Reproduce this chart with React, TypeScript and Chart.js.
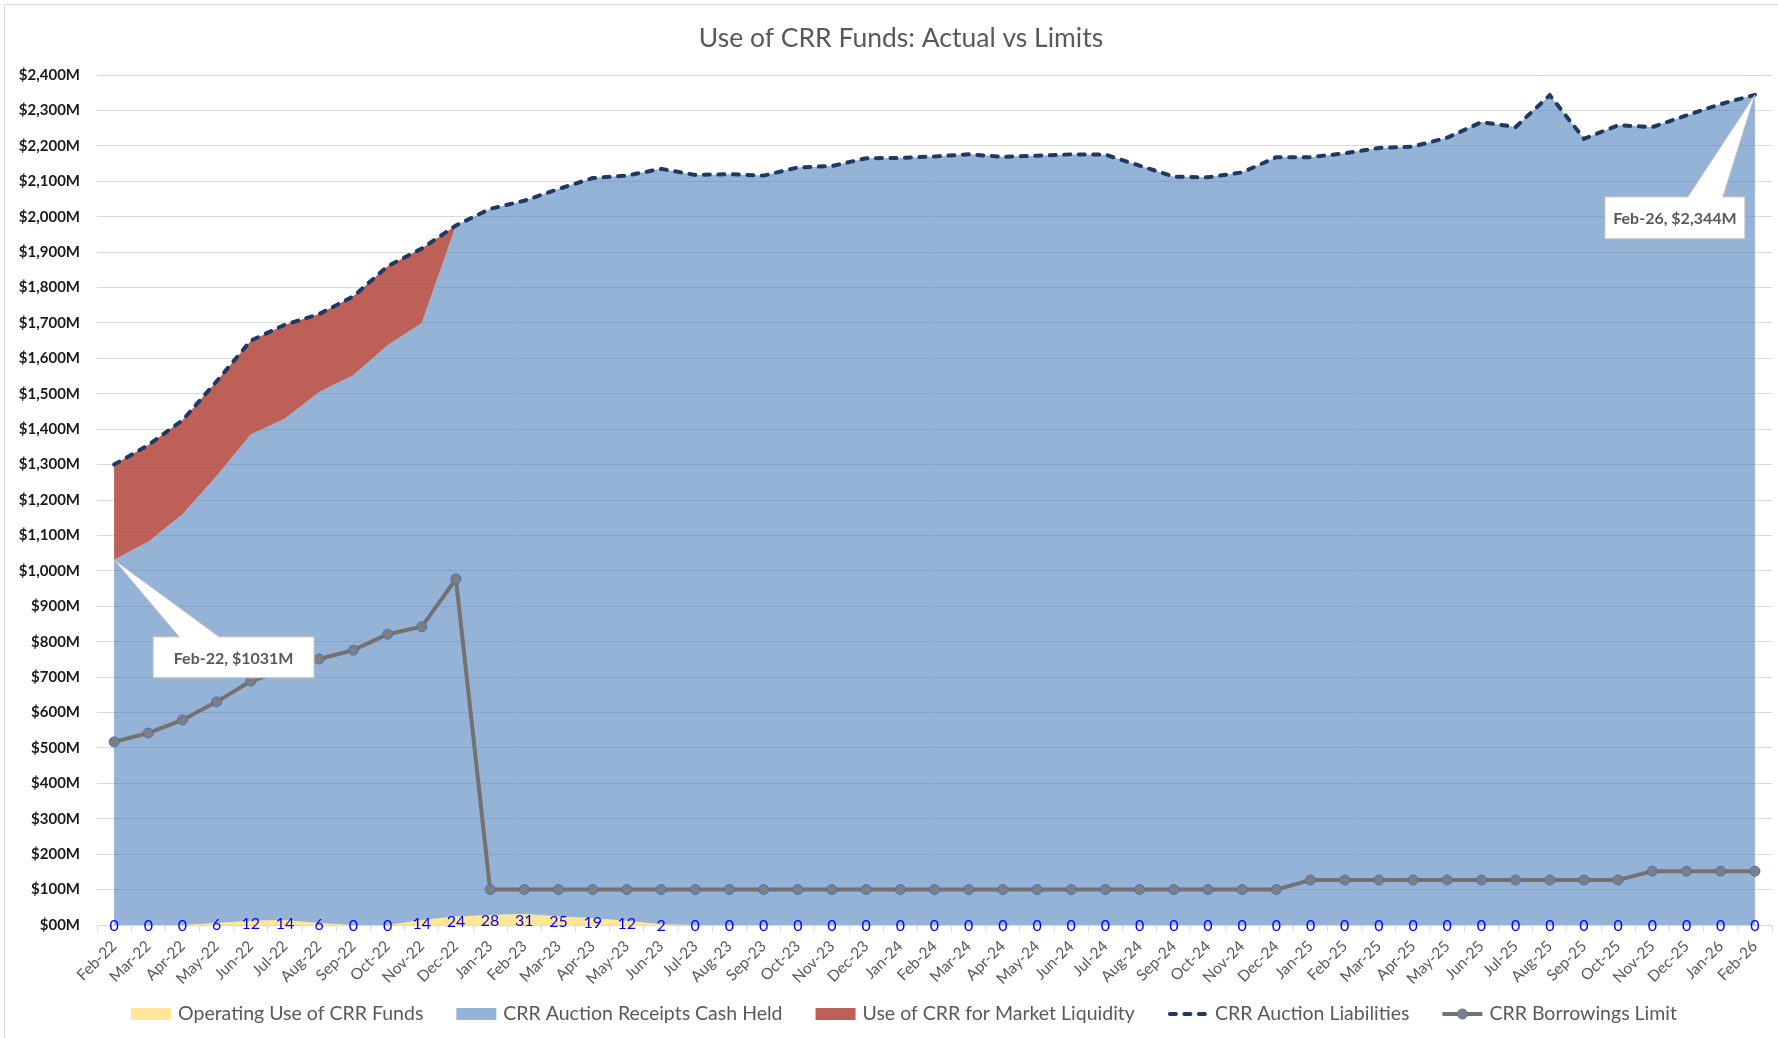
import React, { useEffect, useRef } from 'react';
import { Chart, registerables } from 'chart.js';

Chart.register(...registerables);

const FONT = 'Lato, "Open Sans", "DejaVu Sans", sans-serif';

const categories = [
  'Feb-22', 'Mar-22', 'Apr-22', 'May-22', 'Jun-22', 'Jul-22', 'Aug-22', 'Sep-22', 'Oct-22', 'Nov-22', 'Dec-22',
  'Jan-23', 'Feb-23', 'Mar-23', 'Apr-23', 'May-23', 'Jun-23', 'Jul-23', 'Aug-23', 'Sep-23', 'Oct-23', 'Nov-23', 'Dec-23',
  'Jan-24', 'Feb-24', 'Mar-24', 'Apr-24', 'May-24', 'Jun-24', 'Jul-24', 'Aug-24', 'Sep-24', 'Oct-24', 'Nov-24', 'Dec-24',
  'Jan-25', 'Feb-25', 'Mar-25', 'Apr-25', 'May-25', 'Jun-25', 'Jul-25', 'Aug-25', 'Sep-25', 'Oct-25', 'Nov-25', 'Dec-25',
  'Jan-26', 'Feb-26',
];

// Operating Use of CRR Funds ($M)
const operatingUse = [
  0, 0, 0, 6, 12, 14, 6, 0, 0, 14, 24,
  28, 31, 25, 19, 12, 2, 0, 0, 0, 0, 0, 0,
  0, 0, 0, 0, 0, 0, 0, 0, 0, 0, 0, 0,
  0, 0, 0, 0, 0, 0, 0, 0, 0, 0, 0, 0,
  0, 0,
];

// CRR Auction Receipts Cash Held ($M)
const cashHeld = [
  1031, 1082, 1160, 1262, 1373, 1416, 1499, 1552, 1637, 1686, 1951,
  1994, 2014, 2053, 2090, 2104, 2133, 2118, 2120, 2116, 2139, 2143, 2165,
  2166, 2170, 2176, 2169, 2172, 2176, 2175, 2144, 2113, 2111, 2125, 2168,
  2168, 2179, 2194, 2198, 2223, 2267, 2253, 2343, 2220, 2258, 2253, 2286,
  2318, 2344,
];

// Use of CRR for Market Liquidity ($M)
const marketLiquidity = [
  269, 273, 265, 267, 265, 265, 220, 223, 223, 210, 0,
  0, 0, 0, 0, 0, 0, 0, 0, 0, 0, 0, 0,
  0, 0, 0, 0, 0, 0, 0, 0, 0, 0, 0, 0,
  0, 0, 0, 0, 0, 0, 0, 0, 0, 0, 0, 0,
  0, 0,
];

// CRR Auction Liabilities ($M)
const liabilities = [
  1300, 1355, 1425, 1535, 1650, 1695, 1725, 1775, 1860, 1910, 1975,
  2022, 2045, 2078, 2109, 2116, 2135, 2118, 2120, 2116, 2139, 2143, 2165,
  2166, 2170, 2176, 2169, 2172, 2176, 2175, 2144, 2113, 2111, 2125, 2168,
  2168, 2179, 2194, 2198, 2223, 2267, 2253, 2343, 2220, 2258, 2253, 2286,
  2318, 2344,
];

// CRR Borrowings Limit ($M)
const borrowingLimit = [
  517, 542, 579, 630, 689, 720, 751, 776, 821, 842, 977,
  100, 100, 100, 100, 100, 100, 100, 100, 100, 100, 100, 100,
  100, 100, 100, 100, 100, 100, 100, 100, 100, 100, 100, 100,
  127, 127, 127, 127, 127, 127, 127, 127, 127, 127, 152, 152,
  152, 152,
];

const TITLE = 'Use of CRR Funds: Actual vs Limits';

const COLORS = {
  yellow: 'rgba(255,192,0,0.4)',
  blue: 'rgba(79,129,189,0.6)',
  red: 'rgba(180,75,65,0.88)',
  navy: '#1F3864',
  gray: '#767171',
  marker: '#7F7F7F',
  markerBorder: '#4472C4',
  text: '#595959',
  grid: '#d9d9d9',
};

function fmtMoney(v: number) {
  if (v === 0) return '$00M';
  return '$' + v.toLocaleString('en-US') + 'M';
}

function drawCallout(
  ctx: CanvasRenderingContext2D,
  tipX: number, tipY: number,
  left: number, top: number, w: number, h: number,
  baseL: number, baseR: number, text: string,
) {
  ctx.save();
  ctx.beginPath();
  ctx.moveTo(left, top);
  ctx.lineTo(left + baseL, top);
  ctx.lineTo(tipX, tipY);
  ctx.lineTo(left + baseR, top);
  ctx.lineTo(left + w, top);
  ctx.lineTo(left + w, top + h);
  ctx.lineTo(left, top + h);
  ctx.closePath();
  ctx.fillStyle = '#ffffff';
  ctx.fill();
  ctx.strokeStyle = '#bfbfbf';
  ctx.lineWidth = 1;
  ctx.stroke();
  ctx.fillStyle = COLORS.text;
  ctx.font = `bold 16px ${FONT}`;
  ctx.textAlign = 'center';
  ctx.textBaseline = 'middle';
  ctx.fillText(text, left + w / 2, top + h / 2 + 1);
  ctx.restore();
}

const overlayPlugin = {
  id: 'overlay',
  beforeDraw(chart: any) {
    const { ctx, width, height } = chart;
    ctx.save();
    ctx.fillStyle = '#ffffff';
    ctx.fillRect(0, 0, width, height);
    ctx.strokeStyle = '#d9d9d9';
    ctx.lineWidth = 1;
    ctx.strokeRect(4.5, 4.5, width - 2, height - 4);
    ctx.restore();
  },
  afterDatasetsDraw(chart: any) {
    const { ctx } = chart;
    const x = chart.scales.x;
    const y = chart.scales.y;
    // data labels for operating use
    ctx.save();
    ctx.font = `16px ${FONT}`;
    ctx.fillStyle = '#0000FF';
    ctx.textAlign = 'center';
    ctx.textBaseline = 'middle';
    operatingUse.forEach((v, i) => {
      ctx.fillText(String(v), x.getPixelForValue(i), y.getPixelForValue(v / 2) + 1);
    });
    ctx.restore();

    // callout: first point of cash held
    const t1x = x.getPixelForValue(0);
    const t1y = y.getPixelForValue(operatingUse[0] + cashHeld[0]);
    drawCallout(ctx, t1x, t1y, t1x + 39, t1y + 77, 161, 41, 26, 66,
      `${categories[0]}, $${cashHeld[0]}M`);

    // callout: last point of liabilities
    const last = categories.length - 1;
    const t2x = x.getPixelForValue(last);
    const t2y = y.getPixelForValue(liabilities[last]);
    drawCallout(ctx, t2x, t2y, t2x - 150, t2y + 102, 140, 42, 83, 118,
      `${categories[last]}, $${liabilities[last].toLocaleString('en-US')}M`);
  },
  afterDraw(chart: any) {
    const { ctx } = chart;
    ctx.save();
    // title
    ctx.fillStyle = COLORS.text;
    ctx.font = `26.5px ${FONT}`;
    ctx.textAlign = 'center';
    ctx.textBaseline = 'alphabetic';
    ctx.fillText(TITLE, 901, 47);

    // legend
    const items = [
      { label: 'Operating Use of CRR Funds', kind: 'box', color: COLORS.yellow },
      { label: 'CRR Auction Receipts Cash Held', kind: 'box', color: COLORS.blue },
      { label: 'Use of CRR for Market Liquidity', kind: 'box', color: COLORS.red },
      { label: 'CRR Auction Liabilities', kind: 'dash', color: COLORS.navy },
      { label: 'CRR Borrowings Limit', kind: 'marker', color: COLORS.gray },
    ];
    ctx.font = `19.5px ${FONT}`;
    const sym = 40, gapSym = 7, gapItem = 33;
    const widths = items.map((it) => ctx.measureText(it.label).width);
    const total = widths.reduce((a, b) => a + b, 0) + items.length * (sym + gapSym) + (items.length - 1) * gapItem;
    let cx = 904 - total / 2;
    const cy = 1014;
    items.forEach((it, i) => {
      if (it.kind === 'box') {
        ctx.fillStyle = it.color;
        ctx.fillRect(cx, cy - 6, sym, 12);
      } else if (it.kind === 'dash') {
        ctx.strokeStyle = it.color;
        ctx.lineWidth = 4;
        ctx.lineCap = 'round';
        ctx.setLineDash([6, 8.5]);
        ctx.beginPath();
        ctx.moveTo(cx + 2, cy);
        ctx.lineTo(cx + sym - 2, cy);
        ctx.stroke();
        ctx.setLineDash([]);
      } else {
        ctx.strokeStyle = it.color;
        ctx.lineWidth = 4;
        ctx.lineCap = 'butt';
        ctx.beginPath();
        ctx.moveTo(cx, cy);
        ctx.lineTo(cx + sym, cy);
        ctx.stroke();
        ctx.beginPath();
        ctx.arc(cx + sym / 2, cy, 5, 0, Math.PI * 2);
        ctx.fillStyle = COLORS.marker;
        ctx.fill();
        ctx.lineWidth = 1;
        ctx.strokeStyle = COLORS.markerBorder;
        ctx.stroke();
      }
      cx += sym + gapSym;
      ctx.fillStyle = COLORS.text;
      ctx.textAlign = 'left';
      ctx.textBaseline = 'middle';
      ctx.fillText(it.label, cx, cy);
      cx += widths[i] + gapItem;
    });
    ctx.restore();
  },
};

export default function App() {
  const canvasRef = useRef<HTMLCanvasElement | null>(null);

  useEffect(() => {
    const canvas = canvasRef.current;
    if (!canvas) return;
    const chart = new Chart(canvas, {
      type: 'line',
      data: {
        labels: categories,
        datasets: [
          {
            label: 'Operating Use of CRR Funds',
            data: operatingUse,
            stack: 'areas',
            fill: 'origin',
            backgroundColor: COLORS.yellow,
            borderWidth: 0,
            pointRadius: 0,
            tension: 0,
            order: 1,
          },
          {
            label: 'CRR Auction Receipts Cash Held',
            data: cashHeld,
            stack: 'areas',
            fill: '-1',
            backgroundColor: COLORS.blue,
            borderWidth: 0,
            pointRadius: 0,
            tension: 0,
            order: 1,
          },
          {
            label: 'Use of CRR for Market Liquidity',
            data: marketLiquidity,
            stack: 'areas',
            fill: '-1',
            backgroundColor: COLORS.red,
            borderWidth: 0,
            pointRadius: 0,
            tension: 0,
            order: 1,
          },
          {
            label: 'CRR Auction Liabilities',
            data: liabilities,
            stack: 'liabilities',
            fill: false,
            borderColor: COLORS.navy,
            borderWidth: 4,
            borderDash: [6, 8.5],
            borderCapStyle: 'round',
            pointRadius: 0,
            tension: 0,
            order: 0,
          },
          {
            label: 'CRR Borrowings Limit',
            data: borrowingLimit,
            stack: 'limit',
            fill: false,
            borderColor: COLORS.gray,
            borderWidth: 4,
            pointRadius: 5,
            pointBackgroundColor: COLORS.marker,
            pointBorderColor: COLORS.markerBorder,
            pointBorderWidth: 1,
            tension: 0,
            order: 0,
          },
        ] as any,
      },
      options: {
        responsive: false,
        animation: false,
        devicePixelRatio: 1,
        layout: { padding: { top: 75, right: 2, bottom: 0, left: 0 } },
        plugins: {
          legend: { display: false },
          title: { display: false },
          tooltip: { enabled: false },
        },
        scales: {
          x: {
            type: 'category',
            offset: true,
            grid: {
              display: true,
              drawOnChartArea: false,
              drawTicks: true,
              tickLength: 6,
              offset: true,
              color: COLORS.grid,
            },
            border: { display: true, color: COLORS.grid, width: 1 },
            ticks: {
              autoSkip: false,
              maxRotation: 45,
              minRotation: 45,
              color: COLORS.text,
              font: { family: FONT, size: 15.5 },
              padding: 6,
            },
            afterFit: (s: any) => { s.height = 113; },
          },
          y: {
            stacked: true,
            min: 0,
            max: 2400,
            grid: { color: COLORS.grid, drawTicks: false, lineWidth: 1 },
            border: { display: false },
            ticks: {
              stepSize: 100,
              color: '#1a1a1a',
              font: { family: FONT, size: 15, weight: 'bold' },
              padding: 17,
              callback: (v: any) => fmtMoney(Number(v)),
            },
            afterFit: (s: any) => { s.width = 97; },
          },
        },
      } as any,
      plugins: [overlayPlugin],
    });
    return () => chart.destroy();
  }, []);

  return (
    <div style={{ position: 'absolute', left: 0, top: 0, width: 1778, height: 1038, background: '#fff' }}>
      <canvas ref={canvasRef} width={1778} height={1038} style={{ display: 'block', width: 1778, height: 1038 }} />
    </div>
  );
}
